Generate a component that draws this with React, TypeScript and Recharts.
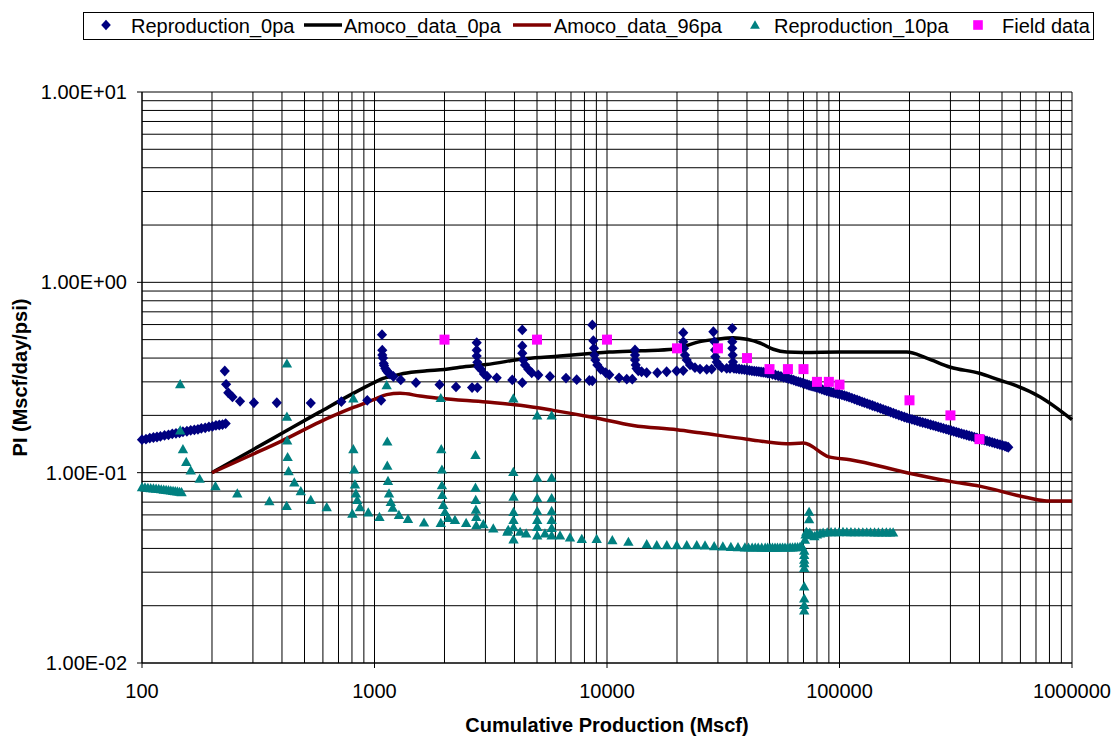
import React from "react";
import { ScatterChart, Scatter, XAxis, YAxis, CartesianGrid, Label } from "recharts";

type Pt = [number, number];

const NAVY = "#000080";
const TEAL = "#008080";
const MAGENTA = "#FF00FF";
const BLACK = "#000000";
const MAROON = "#800000";
const FONT = "'Liberation Sans', Arial, sans-serif";

const X_TICKS = [100, 1000, 10000, 100000, 1000000];
const Y_TICKS = [0.01, 0.1, 1, 10];

// simulated PI, no pressure-dependent permeability
const REPRO_0PA: Pt[] = [
  [100, 0.149], [104, 0.150], [108, 0.152], [112, 0.153], [116, 0.154], [120, 0.155],
  [125, 0.157], [130, 0.158], [135, 0.160], [140, 0.161], [145, 0.162], [150, 0.164],
  [156, 0.165], [162, 0.167], [168, 0.168], [174, 0.169], [180, 0.171], [187, 0.172],
  [194, 0.174], [201, 0.175], [208, 0.177], [215, 0.178], [222, 0.179], [229, 0.181],
  [227, 0.342], [230, 0.291], [235, 0.263], [245, 0.250], [264, 0.237], [303, 0.233],
  [380, 0.233], [532, 0.232], [720, 0.236], [931, 0.240], [1068, 0.240],
  [1077, 0.531], [1080, 0.44], [1080, 0.415], [1088, 0.40], [1095, 0.375], [1099, 0.366],
  [1113, 0.353], [1127, 0.343], [1145, 0.335], [1166, 0.33], [1206, 0.32], [1297, 0.307],
  [1508, 0.297], [1905, 0.29], [2242, 0.282], [2628, 0.28], [2770, 0.28],
  [2752, 0.482], [2752, 0.44], [2752, 0.41], [2770, 0.38], [2796, 0.36], [2863, 0.35],
  [2958, 0.33], [3055, 0.32], [3355, 0.315], [3914, 0.307], [4322, 0.297],
  [4322, 0.562], [4322, 0.463], [4322, 0.424], [4364, 0.391], [4440, 0.368], [4587, 0.349],
  [4744, 0.335], [5064, 0.326], [5686, 0.32], [6663, 0.314], [7408, 0.308], [8395, 0.305],
  [8647, 0.304],
  [8647, 0.597], [8735, 0.494], [8790, 0.45], [8820, 0.415], [8906, 0.391], [9085, 0.368],
  [9396, 0.349], [9872, 0.335], [10230, 0.327], [11270, 0.315], [12160, 0.31], [12850, 0.31],
  [13195, 0.441], [13195, 0.415], [13195, 0.391], [13290, 0.368], [13400, 0.353],
  [13630, 0.343], [14090, 0.339], [14810, 0.335], [16460, 0.335], [18050, 0.339],
  [19920, 0.342], [21280, 0.344],
  [21280, 0.544], [21280, 0.488], [21440, 0.45], [21650, 0.415], [22020, 0.391],
  [22750, 0.368], [23900, 0.356], [25120, 0.35], [26850, 0.349], [28200, 0.35],
  [28670, 0.55], [28950, 0.488], [29150, 0.441], [29240, 0.406], [29650, 0.381],
  [30130, 0.368], [31130, 0.356], [32720, 0.353], [33810, 0.353],
  [34580, 0.573], [34580, 0.488], [34580, 0.45], [34710, 0.415], [34810, 0.381],
  [34900, 0.36], [35170, 0.353],
  // long decline after the last shut-in
  [36000, 0.352], [37000, 0.3505], [38000, 0.349], [39000, 0.3475], [40000, 0.346],
  [41000, 0.3445], [42000, 0.343], [43000, 0.3418], [44000, 0.3405], [45000, 0.3393],
  [46000, 0.338], [47000, 0.337], [48000, 0.336], [49000, 0.334], [50000, 0.332],
  [51500, 0.329], [53000, 0.326], [54500, 0.323], [56000, 0.32], [57500, 0.317],
  [59000, 0.3145], [60500, 0.3118], [62000, 0.309], [63500, 0.306], [65000, 0.303],
  [66500, 0.3005], [68000, 0.298], [69500, 0.2955], [71000, 0.293], [72500, 0.2905],
  [74000, 0.288], [75500, 0.286], [77000, 0.284], [78500, 0.282], [80000, 0.28],
  [82000, 0.277], [84000, 0.274], [86000, 0.2715], [88000, 0.269], [90000, 0.267],
  [92000, 0.265], [94000, 0.2635], [96000, 0.262], [98000, 0.26], [100000, 0.258],
  [102500, 0.256], [105000, 0.254], [107500, 0.2517], [110000, 0.2494], [113000, 0.2465],
  [116000, 0.2435], [119000, 0.2408], [122000, 0.2382], [125000, 0.2357], [128000, 0.2333],
  [131500, 0.2306], [135000, 0.2279], [138500, 0.2253], [142000, 0.2228], [146000, 0.2201],
  [150000, 0.2175], [154000, 0.215], [158000, 0.2126], [162000, 0.2103], [166000, 0.208],
  [170500, 0.2056], [175000, 0.2032], [180000, 0.2007], [185000, 0.1983], [190000, 0.1961],
  [195000, 0.194], [200000, 0.1922], [205000, 0.1905], [210500, 0.1887], [216000, 0.187],
  [222000, 0.1852], [228000, 0.1835], [234000, 0.1819], [240000, 0.1803], [246500, 0.1786],
  [253000, 0.177], [259500, 0.1754], [266000, 0.1739], [273000, 0.1723], [280000, 0.1708],
  [287500, 0.1692], [295000, 0.1677], [302500, 0.1662], [310000, 0.1648], [318000, 0.1634],
  [326000, 0.162], [334500, 0.1605], [343000, 0.1591], [352000, 0.1577], [361000, 0.1563],
  [370500, 0.155], [380000, 0.1537], [390000, 0.1522], [400000, 0.1507], [410000, 0.1494],
  [420000, 0.1481], [431000, 0.1468], [442000, 0.1455], [453500, 0.1442], [465000, 0.1429],
  [477500, 0.1416], [490000, 0.1403], [502500, 0.139], [515000, 0.1378], [523500, 0.1369],
  [532000, 0.136],
];

const AMOCO_0PA: Pt[] = [
  [200, 0.1], [300, 0.132], [400, 0.161], [580, 0.208], [810, 0.261], [1000, 0.298],
  [1090, 0.313], [1200, 0.322], [1330, 0.332], [1680, 0.343], [2000, 0.348], [2330, 0.358],
  [3030, 0.37], [4500, 0.398], [6270, 0.41], [8700, 0.424], [10200, 0.43], [14000, 0.437],
  [19300, 0.445], [25100, 0.488], [29700, 0.502], [34900, 0.512], [40000, 0.502],
  [45500, 0.48], [51900, 0.445], [59300, 0.43], [70000, 0.428], [100000, 0.43],
  [195000, 0.43], [237000, 0.40], [300000, 0.358], [400000, 0.333], [490000, 0.306],
  [560000, 0.29], [730000, 0.25], [1000000, 0.19],
];

const AMOCO_96PA: Pt[] = [
  [200, 0.1], [300, 0.125], [400, 0.147], [583, 0.185], [811, 0.22], [1000, 0.243],
  [1128, 0.257], [1290, 0.261], [1570, 0.253], [1900, 0.246], [3030, 0.235], [4230, 0.226],
  [5870, 0.2125], [8740, 0.195], [12960, 0.177], [20000, 0.168], [25100, 0.162],
  [40000, 0.15], [59000, 0.142], [70000, 0.143], [90000, 0.121], [111000, 0.117],
  [195000, 0.1], [300000, 0.09], [400000, 0.085], [640000, 0.074], [780000, 0.071],
  [1000000, 0.071],
];

// simulated PI with 10 Pa stress sensitivity
const REPRO_10PA: Pt[] = [
  [100, 0.084], [103, 0.0837], [106, 0.0834], [109, 0.0831], [112, 0.0828], [115, 0.0825],
  [118, 0.0822], [121, 0.0819], [124, 0.0816], [127, 0.0813], [130, 0.081], [133, 0.0807],
  [136, 0.0804], [139, 0.0801], [142, 0.0798], [145, 0.0795], [148, 0.0792],
  [146, 0.292], [146, 0.167], [150, 0.133], [155, 0.114], [162, 0.103], [177, 0.093],
  [207, 0.085], [257, 0.078], [353, 0.071], [419, 0.067],
  [420, 0.375], [420, 0.197], [421, 0.148], [423, 0.121], [427, 0.102], [452, 0.089],
  [482, 0.080], [532, 0.072], [623, 0.066],
  [811, 0.246], [811, 0.133], [818, 0.104], [824, 0.087], [832, 0.078], [843, 0.072],
  [866, 0.066], [803, 0.061], [940, 0.062], [1050, 0.0586],
  [1128, 0.289], [1135, 0.146], [1135, 0.109], [1143, 0.0906], [1155, 0.078], [1175, 0.0702],
  [1198, 0.0655], [1274, 0.0601], [1393, 0.0573], [1633, 0.0548],
  [1928, 0.247], [1937, 0.133], [1950, 0.104], [1950, 0.086], [1956, 0.0765], [1975, 0.0678],
  [2009, 0.0622], [1928, 0.0545], [2076, 0.058], [2218, 0.0566], [2478, 0.0545],
  [2718, 0.124], [2718, 0.0835], [2725, 0.072], [2730, 0.064], [2740, 0.0586], [2740, 0.053],
  [2938, 0.0537], [3243, 0.051],
  [3955, 0.246], [3955, 0.101], [3962, 0.0749], [3962, 0.0623], [3962, 0.0565], [3962, 0.0518],
  [3962, 0.0447], [3726, 0.049], [3760, 0.0502], [4230, 0.049], [4490, 0.048],
  [5010, 0.2], [5010, 0.0942], [5010, 0.0737], [5010, 0.063], [5010, 0.0565], [5010, 0.052],
  [5010, 0.0469], [5410, 0.048],
  [5780, 0.2], [5780, 0.0942], [5780, 0.0737], [5780, 0.063], [5780, 0.0565], [5780, 0.0513],
  [5780, 0.0469],
  [6280, 0.0469], [6930, 0.0458], [7790, 0.0449], [9030, 0.0449], [10540, 0.0443],
  [12360, 0.0434], [14820, 0.0422], [16370, 0.0417], [18080, 0.0417], [19950, 0.0417],
  [22030, 0.0417], [24320, 0.0417], [26400, 0.0415], [28900, 0.0412], [31500, 0.041],
  [34100, 0.0408], [36600, 0.0407], [39200, 0.0406], [40600, 0.0405], [42100, 0.0405],
  [43400, 0.0405], [44700, 0.0405], [46300, 0.0404], [47900, 0.0404], [49100, 0.0404],
  [50300, 0.0404], [51500, 0.0404], [52800, 0.0404], [54100, 0.0404], [55500, 0.0405],
  [56900, 0.0405], [58300, 0.0405], [59800, 0.0405], [61300, 0.0406], [62800, 0.0406],
  [64400, 0.0407], [66000, 0.0407], [67600, 0.0408], [69000, 0.0409],
  [70500, 0.039], [70500, 0.037], [70500, 0.035], [70500, 0.0335], [70500, 0.0316],
  [70500, 0.0253], [70500, 0.0219], [70500, 0.0202], [70500, 0.0189],
  [74000, 0.0624], [74000, 0.057], [71000, 0.0445], [71500, 0.0475], [72000, 0.049],
  [73000, 0.048], [74500, 0.0485], [76000, 0.047], [78000, 0.0465], [80000, 0.0475],
  [82500, 0.048],
  [85000, 0.0485], [88500, 0.0487], [92000, 0.0488], [95700, 0.0488], [99500, 0.0488],
  [103500, 0.0489], [107600, 0.0488], [112000, 0.0488], [116500, 0.0487], [121000, 0.0487],
  [126000, 0.0487], [131000, 0.0487], [136000, 0.0487], [141500, 0.0486], [147000, 0.0486],
  [153000, 0.0486], [159000, 0.0486], [165000, 0.0486], [170000, 0.0486],
];

const FIELD_DATA: Pt[] = [
  [2000, 0.5], [5000, 0.5], [10000, 0.5], [20000, 0.45], [30000, 0.45], [40000, 0.4],
  [50000, 0.35], [60000, 0.35], [70000, 0.35], [80000, 0.3], [90000, 0.3], [100000, 0.29],
  [200000, 0.24], [300000, 0.2], [400000, 0.15],
];

const toRows = (pts: Pt[]) => pts.map(([x, y]) => ({ x, y }));

// 1..9 inside every decade, for the log grid
const decadeLines = (from: number, to: number) => {
  const out: number[] = [];
  for (let d = from; d < to; d *= 10) {
    for (let k = 1; k < 10; k++) out.push(d * k);
  }
  out.push(to);
  return out;
};

const sci = (v: number) => {
  const [m, e] = v.toExponential(2).split("e");
  const n = parseInt(e, 10);
  return `${m}E${n < 0 ? "-" : "+"}${String(Math.abs(n)).padStart(2, "0")}`;
};

const Diamond = (p: any) => (
  <path
    d={`M${p.cx},${p.cy - 5.4}L${p.cx + 5.1},${p.cy}L${p.cx},${p.cy + 5.4}L${p.cx - 5.1},${p.cy}Z`}
    fill={NAVY}
  />
);
const Triangle = (p: any) => (
  <path
    d={`M${p.cx},${p.cy - 5}L${p.cx + 5.2},${p.cy + 4.2}L${p.cx - 5.2},${p.cy + 4.2}Z`}
    fill={TEAL}
  />
);
const Square = (p: any) => (
  <rect x={p.cx - 5} y={p.cy - 5} width={10} height={10} fill={MAGENTA} />
);
const NoMarker = () => <g />;

const LEGEND_ITEMS = [
  { label: "Reproduction_0pa", kind: "diamond", color: NAVY, key: 22, text: 47 },
  { label: "Amoco_data_0pa", kind: "line", color: BLACK, key: 239, text: 260 },
  { label: "Amoco_data_96pa", kind: "line", color: MAROON, key: 448, text: 470 },
  { label: "Reproduction_10pa", kind: "triangle", color: TEAL, key: 671, text: 690 },
  { label: "Field data", kind: "square", color: MAGENTA, key: 894, text: 918 },
];

function LegendKey({ kind, color }: { kind: string; color: string }) {
  return (
    <svg width={40} height={26} style={{ position: "absolute", left: -20, top: 0 }}>
      {kind === "line" && <line x1={1} y1={12} x2={39} y2={12} stroke={color} strokeWidth={3.5} />}
      {kind === "diamond" && <path d="M20,6.8L24.8,12L20,17.2L15.2,12Z" fill={color} />}
      {kind === "triangle" && <path d="M20,7.2L24.9,15.8L15.1,15.8Z" fill={color} />}
      {kind === "square" && <rect x={15.2} y={7.2} width={9.6} height={9.6} fill={color} />}
    </svg>
  );
}

function ChartLegend() {
  return (
    <div
      style={{
        position: "absolute",
        left: 83,
        top: 12,
        width: 1011,
        height: 28,
        boxSizing: "border-box",
        border: "1px solid #000",
        background: "#fff",
        fontFamily: FONT,
        fontSize: 20,
        color: "#000",
      }}
    >
      {LEGEND_ITEMS.map((it) => (
        <React.Fragment key={it.label}>
          <div style={{ position: "absolute", left: it.key, top: 0 }}>
            <LegendKey kind={it.kind} color={it.color} />
          </div>
          <div style={{ position: "absolute", left: it.text, top: 0, lineHeight: "26px", whiteSpace: "nowrap" }}>
            {it.label}
          </div>
        </React.Fragment>
      ))}
    </div>
  );
}

const tickStyle = { fontFamily: FONT, fontSize: 20, fill: "#000" };
const titleStyle = { fontFamily: FONT, fontSize: 20, fontWeight: 700, fill: "#000" };

export default function App() {
  return (
    <div style={{ position: "absolute", left: 0, top: 0, width: 1114, height: 738, background: "#fff" }}>
      <ScatterChart width={1114} height={738} margin={{ top: 92, right: 42, bottom: 0, left: 0 }}>
        <CartesianGrid
          stroke="#000"
          strokeWidth={1}
          verticalValues={decadeLines(100, 1000000)}
          horizontalValues={decadeLines(0.01, 10)}
        />
        <XAxis
          type="number"
          dataKey="x"
          scale="log"
          domain={[100, 1000000]}
          ticks={X_TICKS}
          interval={0}
          tickFormatter={(v: number) => String(v)}
          tick={tickStyle}
          tickSize={5}
          tickMargin={16}
          height={75}
          axisLine={{ stroke: "#000" }}
          tickLine={{ stroke: "#000" }}
        >
          <Label value="Cumulative Production (Mscf)" position="insideBottom" offset={6} style={titleStyle} />
        </XAxis>
        <YAxis
          type="number"
          dataKey="y"
          scale="log"
          domain={[0.01, 10]}
          ticks={Y_TICKS}
          interval={0}
          tickFormatter={sci}
          tick={tickStyle}
          tickSize={5}
          tickMargin={10}
          width={142}
          axisLine={{ stroke: "#000" }}
          tickLine={{ stroke: "#000" }}
        >
          <Label
            value="PI (Mscf/day/psi)"
            angle={-90}
            position="insideLeft"
            offset={20}
            style={{ ...titleStyle, textAnchor: "middle" }}
          />
        </YAxis>
        <Scatter
          name="Amoco_data_0pa"
          data={toRows(AMOCO_0PA)}
          fill={BLACK}
          line={{ stroke: BLACK, strokeWidth: 3.5 }}
          lineJointType="monotoneX"
          shape={NoMarker}
          isAnimationActive={false}
        />
        <Scatter
          name="Amoco_data_96pa"
          data={toRows(AMOCO_96PA)}
          fill={MAROON}
          line={{ stroke: MAROON, strokeWidth: 3.5 }}
          lineJointType="monotoneX"
          shape={NoMarker}
          isAnimationActive={false}
        />
        <Scatter name="Reproduction_0pa" data={toRows(REPRO_0PA)} fill={NAVY} shape={Diamond} isAnimationActive={false} />
        <Scatter name="Reproduction_10pa" data={toRows(REPRO_10PA)} fill={TEAL} shape={Triangle} isAnimationActive={false} />
        <Scatter name="Field data" data={toRows(FIELD_DATA)} fill={MAGENTA} shape={Square} isAnimationActive={false} />
      </ScatterChart>
      <ChartLegend />
    </div>
  );
}
